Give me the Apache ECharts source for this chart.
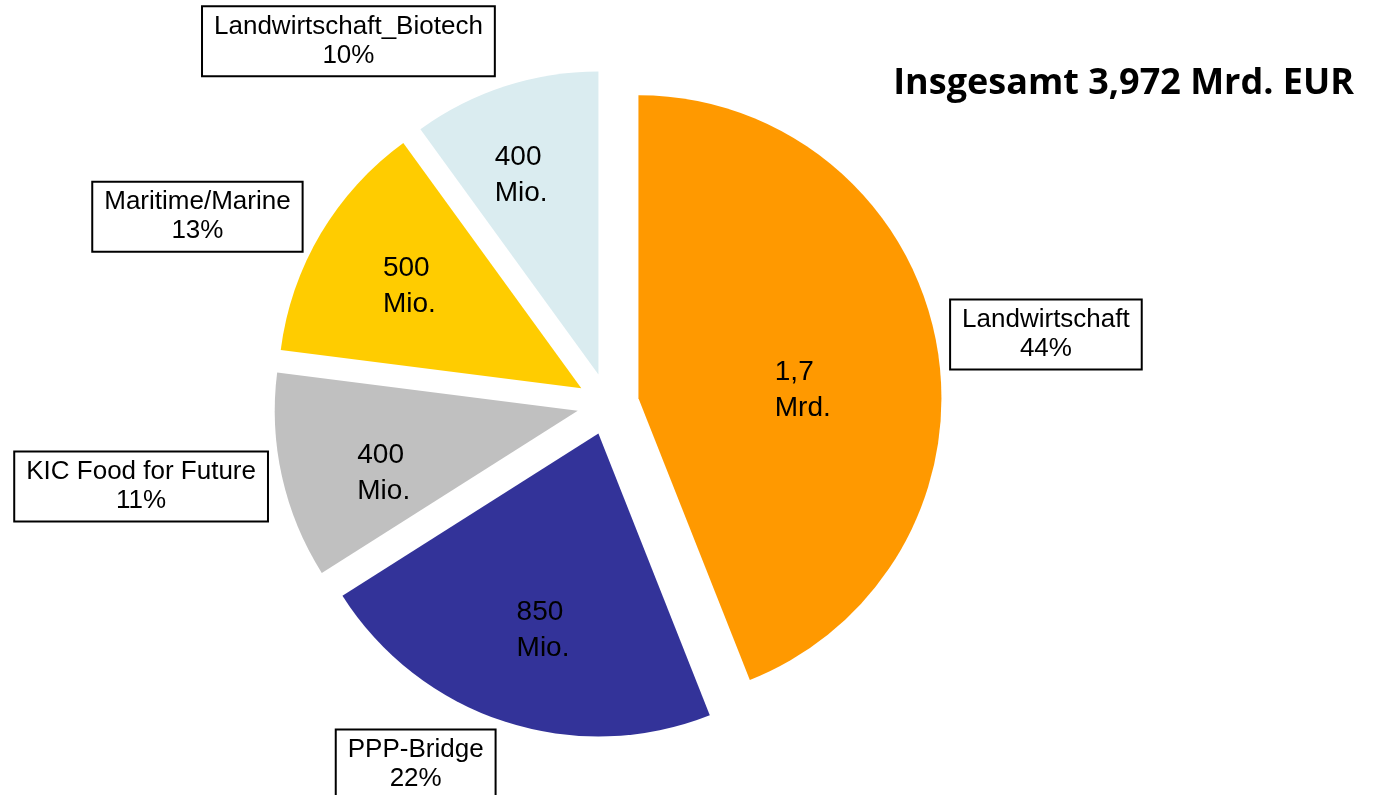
<!DOCTYPE html>
<html><head><meta charset="utf-8">
<script src="https://cdn.jsdelivr.net/npm/echarts@6/dist/echarts.min.js"></script>
<style>html,body{margin:0;padding:0;background:#fff}#c{width:1377px;height:795px}</style>
</head><body><div id="c"></div>
<script>
// ---- data ----
const categories = ['Landwirtschaft', 'PPP-Bridge', 'KIC Food for Future', 'Maritime/Marine', 'Landwirtschaft_Biotech'];
const values = [1748, 874, 437, 516, 397]; // Mio. EUR
const valueLabels = ['1,7\nMrd.', '850\nMio.', '400\nMio.', '500\nMio.', '400\nMio.'];
const titleText = 'Insgesamt 3,972 Mrd. EUR';

// ---- styling ----
const colors = ['#FF9900', '#333399', '#C0C0C0', '#FFCC00', '#DAECF0'];
const outsideNudge = [[10, -7], [-5, 43], [-10, 10], [-14, -17], [-6, -45]];
const insideNudge = [[-40, 31], [9, -1], [9, 17], [7, 4], [-13, -1]];

const chart = echarts.init(document.getElementById('c'), null, {renderer: 'canvas'});
const common = {
  type: 'pie', center: [608, 404], startAngle: 90, clockwise: true,
  selectedMode: 'multiple', selectedOffset: 31, avoidLabelOverlap: false,
  silent: true, animation: false, percentPrecision: 0,
  emphasis: {disabled: true}
};

chart.setOption({
  animation: false,
  title: {
    text: titleText, right: 18, top: 61,
    textStyle: {fontFamily: 'Open Sans', fontWeight: 'bold', fontSize: 36, color: '#000'}
  },
  series: [
    Object.assign({}, common, {
      radius: [0, 303],
      itemStyle: {borderWidth: 0},
      data: categories.map((n, i) => ({name: n, value: values[i], selected: true, itemStyle: {color: colors[i]}})),
      label: {
        show: true, position: 'outside',
        formatter: p => '{a|' + p.name + '}\n{a|' + p.percent + '%}',
        backgroundColor: '#fff', borderColor: '#000', borderWidth: 2, padding: [5, 11],
        distanceToLabelLine: 5,
        rich: {a: {align: 'center', fontFamily: 'Liberation Sans, Arial', fontSize: 26, lineHeight: 29, color: '#000'}}
      },
      labelLine: {show: false, length: 0, length2: 0},
      labelLayout: p => ({dx: outsideNudge[p.dataIndex][0], dy: outsideNudge[p.dataIndex][1]})
    }),
    Object.assign({}, common, {
      radius: [0, 410],
      itemStyle: {color: 'rgba(0,0,0,0)', borderWidth: 0},
      data: categories.map((n, i) => ({name: n, value: values[i], selected: true})),
      label: {
        show: true, position: 'inside',
        formatter: p => valueLabels[p.dataIndex].split('\n').map(s => '{a|' + s + '}').join('\n'),
        rich: {a: {align: 'left', fontFamily: 'Liberation Sans, Arial', fontSize: 28, lineHeight: 36, color: '#000'}}
      },
      labelLine: {show: false},
      labelLayout: p => ({dx: insideNudge[p.dataIndex][0], dy: insideNudge[p.dataIndex][1]})
    })
  ]
});
</script>
</body></html>
